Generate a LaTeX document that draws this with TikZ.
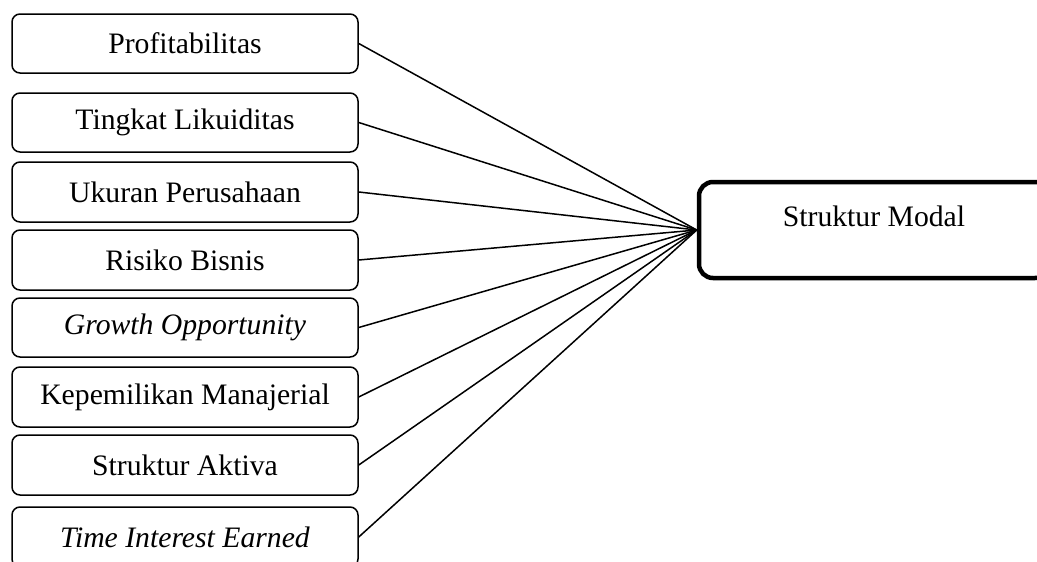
\documentclass[tikz,border=0pt]{standalone}
\usepackage{fontspec}
\setmainfont{Liberation Serif}
\begin{document}
\begin{tikzpicture}[x=1pt,y=-1pt,
  every node/.style={font=\fontsize{29.7}{34}\selectfont},
  varbox/.style={draw=black, line width=1.5pt, rounded corners=8pt, minimum width=346pt, inner sep=0pt},
  mainbox/.style={draw=black, line width=4.5pt, rounded corners=14pt, minimum width=350pt, minimum height=96pt, inner sep=0pt},
  link/.style={draw=black, line width=1.5pt}]
\useasboundingbox (0,0) rectangle (1037,562);
\node[varbox, minimum height=59pt] (b1) at (185,43.5) {Profitabilitas};
\node[varbox, minimum height=59pt] (b2) at (185,122.5) {Tingkat Likuiditas};
\node[varbox, minimum height=60pt] (b3) at (185,192) {Ukuran Perusahaan};
\node[varbox, minimum height=60pt] (b4) at (185,260) {Risiko Bisnis};
\node[varbox, minimum height=59pt] (b5) at (185,327.5) {\itshape Growth Opportunity};
\node[varbox, minimum height=60pt] (b6) at (185,397) {Kepemilikan Manajerial};
\node[varbox, minimum height=60pt] (b7) at (185,465) {Struktur Aktiva};
\node[varbox, minimum height=60pt] (b8) at (185,537) {\itshape Time Interest Earned};
\node[mainbox] (sm) at (874,230) {};
\node (smt) at ([yshift=14pt]sm.center) {Struktur Modal};
\foreach \i in {1,...,8} {
  \draw[link] (b\i.east) -- (sm.west);
}
\end{tikzpicture}
\end{document}
